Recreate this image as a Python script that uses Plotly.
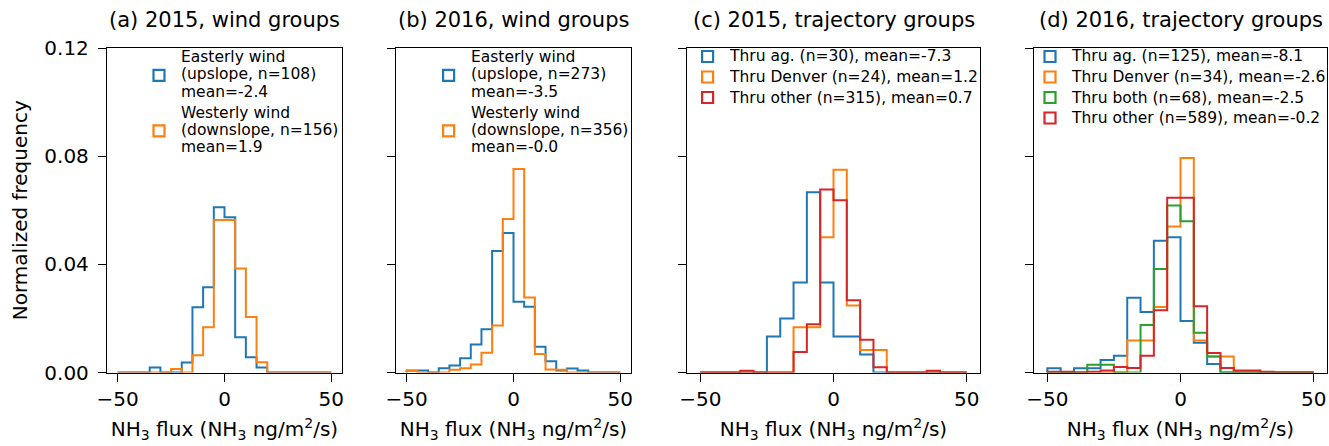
import plotly.graph_objects as go

# ---------------- data (normalized frequency per 5-unit bin) ----------------
BIN_EDGES = [-50, -45, -40, -35, -30, -25, -20, -15, -10, -5, 0,
             5, 10, 15, 20, 25, 30, 35, 40, 45, 50]

A_EAST = [0, 0, 0, 0.00185, 0, 0, 0.0037, 0.0241, 0.0315, 0.0611,
          0.0574, 0.0130, 0.0056, 0.00185, 0, 0, 0, 0, 0, 0]
A_WEST = [0, 0, 0, 0, 0, 0.00128, 0, 0.0064, 0.0167, 0.0564,
          0.0564, 0.0385, 0.0205, 0.0038, 0, 0, 0, 0, 0, 0]

B_EAST = [0.00073, 0.00073, 0, 0.0016, 0.0026, 0.0053, 0.0104, 0.0160, 0.0449, 0.0516,
          0.0262, 0.0243, 0.0095, 0.0042, 0.00073, 0.0015, 0.00073, 0, 0, 0]
B_WEST = [0.00056, 0, 0, 0, 0.0010, 0.0016, 0.0030, 0.0073, 0.0174, 0.0568,
          0.0753, 0.0277, 0.0068, 0.0011, 0.0010, 0, 0, 0, 0, 0]

C_AG = [0, 0, 0, 0, 0, 0.0133, 0.0200, 0.0333, 0.0667, 0.0333,
        0.0133, 0.0133, 0.0067, 0, 0, 0, 0, 0, 0, 0]
C_DEN = [0, 0, 0, 0, 0, 0, 0, 0.0167, 0.0167, 0.0500,
         0.0750, 0.0248, 0.0083, 0.0083, 0, 0, 0, 0, 0, 0]
C_OTH = [0, 0, 0, 0.00064, 0, 0, 0, 0.0076, 0.0178, 0.0677,
         0.0637, 0.0267, 0.0121, 0.0019, 0, 0, 0, 0.00064, 0, 0]

D_AG = [0.0016, 0, 0.0016, 0.0016, 0.0046, 0.0062, 0.0276, 0.0224, 0.0487, 0.0500,
        0.0190, 0.0110, 0.0031, 0, 0, 0, 0, 0, 0, 0]
D_DEN = [0, 0, 0, 0, 0, 0, 0.0118, 0.0118, 0.0242, 0.0540,
         0.0793, 0.0118, 0.0059, 0.0059, 0, 0, 0, 0, 0, 0]
D_BOTH = [0, 0, 0, 0.0029, 0.0029, 0, 0, 0.0176, 0.0383, 0.0618,
          0.0559, 0.0147, 0.0059, 0, 0, 0, 0, 0, 0, 0]
D_OTH = [0.0003, 0.0003, 0, 0.0003, 0.0007, 0.0020, 0.0017, 0.0062, 0.0230, 0.0646,
         0.0646, 0.0245, 0.0072, 0.0017, 0.0007, 0.0007, 0.0003, 0, 0, 0]

TITLES = ["(a) 2015, wind groups", "(b) 2016, wind groups",
          "(c) 2015, trajectory groups", "(d) 2016, trajectory groups"]

LABELS_A = [["Easterly wind", "(upslope, n=108)", "mean=-2.4"],
            ["Westerly wind", "(downslope, n=156)", "mean=1.9"]]
LABELS_B = [["Easterly wind", "(upslope, n=273)", "mean=-3.5"],
            ["Westerly wind", "(downslope, n=356)", "mean=-0.0"]]
LABELS_C = [["Thru ag. (n=30), mean=-7.3"],
            ["Thru Denver (n=24), mean=1.2"],
            ["Thru other (n=315), mean=0.7"]]
LABELS_D = [["Thru ag. (n=125), mean=-8.1"],
            ["Thru Denver (n=34), mean=-2.6"],
            ["Thru both (n=68), mean=-2.5"],
            ["Thru other (n=589), mean=-0.2"]]

X_TICKS = [-50, 0, 50]
Y_TICKS = [0, 0.04, 0.08, 0.12]

# ---------------- styling / layout (pixels) ----------------
BLUE, ORANGE, GREEN, RED = "#1f77b4", "#ff7f0e", "#2ca02c", "#d62728"
FONT = "DejaVu Sans"
W, H = 1329, 446
Y_TOP, Y_BOT = 48.0, 372.5
LEG_FONT = 15.5

# leg: marker centre x, text start x, first line y, line step, entry step
panels = [
    dict(series=[(A_EAST, BLUE), (A_WEST, ORANGE)], labels=LABELS_A,
         dom=(107, 342), leg=(159, 180, 57, 17.3, 55.5)),
    dict(series=[(B_EAST, BLUE), (B_WEST, ORANGE)], labels=LABELS_B,
         dom=(396, 631), leg=(448.6, 469.6, 57, 17.3, 55.5)),
    dict(series=[(C_AG, BLUE), (C_DEN, ORANGE), (C_OTH, RED)], labels=LABELS_C,
         dom=(687, 980), leg=(707.6, 727.5, 56.5, 20.5, 20.5)),
    dict(series=[(D_AG, BLUE), (D_DEN, ORANGE), (D_BOTH, GREEN), (D_OTH, RED)],
         labels=LABELS_D, dom=(1034, 1327), leg=(1050, 1069.5, 56.5, 20.5, 20.5)),
]


def px(xp):
    return xp / W


def py(yp):
    return 1 - yp / H


fig = go.Figure()
annotations, shapes = [], []
layout = dict(
    width=W, height=H,
    margin=dict(l=0, r=0, t=0, b=0, autoexpand=False),
    paper_bgcolor="white", plot_bgcolor="white",
    font=dict(family=FONT, color="black", size=20),
    showlegend=False,
)

for i, p in enumerate(panels):
    n = i + 1
    sfx = "" if n == 1 else str(n)
    xa, ya = "x" + sfx, "y" + sfx
    for vals, col in p["series"]:
        xs = [BIN_EDGES[0]] + BIN_EDGES[:-1] + [BIN_EDGES[-1]]
        ys = [0] + list(vals) + [0]
        fig.add_trace(go.Scatter(
            x=xs, y=ys, mode="lines", line=dict(color=col, width=2, shape="hv"),
            xaxis=xa, yaxis=ya, showlegend=False, hoverinfo="skip"))

    x0, x1 = p["dom"]
    layout["xaxis" + sfx] = dict(
        domain=[px(x0), px(x1)], range=[-55, 55], anchor=ya, automargin=False,
        tickvals=X_TICKS, ticks="outside", ticklen=8, tickwidth=1.3, tickcolor="black",
        showline=True, mirror=True, linecolor="black", linewidth=1.3,
        showgrid=False, zeroline=False, tickfont=dict(size=20),
        title=dict(text="NH<sub>3</sub> flux (NH<sub>3</sub> ng/m<sup>2</sup>/s)",
                   font=dict(size=20), standoff=12),
    )
    layout["yaxis" + sfx] = dict(
        domain=[py(Y_BOT), py(Y_TOP)], range=[0, 0.12], anchor=xa,
        automargin=False, ticklabelstandoff=5,
        tickvals=Y_TICKS, tickformat=".2f", ticks="outside", ticklen=8,
        tickwidth=1.3, tickcolor="black", showticklabels=(n == 1),
        showline=True, mirror=True, linecolor="black", linewidth=1.3,
        showgrid=False, zeroline=False, tickfont=dict(size=20),
    )
    if n == 1:
        layout["yaxis"]["title"] = dict(text="Normalized frequency",
                                        font=dict(size=20), standoff=11)

    # legend: open square patch + label lines
    mx, tx, y0, lstep, estep = p["leg"]
    for e, ((vals, col), lines) in enumerate(zip(p["series"], p["labels"])):
        ey = y0 + e * estep
        for j, line in enumerate(lines):
            annotations.append(dict(
                text=line, xref="paper", yref="paper", x=px(tx - 1), y=py(ey + j * lstep),
                xanchor="left", yanchor="middle", showarrow=False,
                font=dict(size=LEG_FONT, family=FONT, color="black")))
        cy = ey + (len(lines) - 1) * lstep / 2 + (1 if len(lines) > 1 else 0)
        shapes.append(dict(
            type="rect", xref="paper", yref="paper",
            x0=px(mx - 5.5), x1=px(mx + 5.5), y0=py(cy + 5.5), y1=py(cy - 5.5),
            line=dict(color=col, width=2.2), fillcolor="rgba(0,0,0,0)"))

    annotations.append(dict(
        text=TITLES[i], xref=xa + " domain", yref=ya + " domain",
        x=0.5, y=1, xanchor="center", yanchor="middle", yshift=28,
        showarrow=False, font=dict(size=21)))

layout["annotations"] = annotations
layout["shapes"] = shapes
fig.update_layout(**layout)
fig.write_html("out.html")
